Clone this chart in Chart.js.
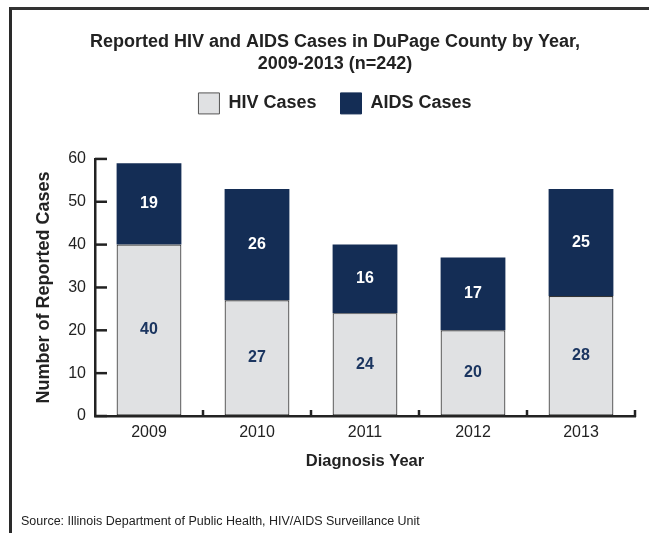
<!DOCTYPE html>
<html>
<head>
<meta charset="utf-8">
<script src="https://cdn.jsdelivr.net/npm/chart.js@4"></script>
<style>
  html, body { margin: 0; padding: 0; background: #fff; }
  #wrap { position: relative; width: 649px; height: 533px; overflow: hidden; }
  #frame {
    position: absolute; left: 9px; top: 7px; width: 700px; height: 600px;
    border-top: 3px solid #333; border-left: 3px solid #2a2a2a;
  }
  #chart { position: absolute; left: 0; top: 0; }
  #source {
    position: absolute; left: 21px; top: 514px;
    font-family: 'Liberation Sans', Arial, sans-serif; font-size: 12.5px; color: #222;
  }
</style>
</head>
<body>
<div id="wrap">
  <div id="frame"></div>
  <canvas id="chart" width="649" height="533"></canvas>
  <div id="source">Source: Illinois Department of Public Health, HIV/AIDS Surveillance Unit</div>
</div>
<script>
// 데이터
const years = ['2009', '2010', '2011', '2012', '2013'];
const hivCases = [40, 27, 24, 20, 28];
const aidsCases = [19, 26, 16, 17, 25];
const yTicks = [0, 10, 20, 30, 40, 50, 60];

const FONT = "'Liberation Sans', Arial, sans-serif";
const INK = '#222';
const HIV_FILL = '#e0e1e3';
const AIDS_FILL = '#142d55';

// 막대 안쪽 값 표시
const barLabels = {
    id: 'barLabels',
    afterDatasetsDraw(chart) {
        const ctx = chart.ctx;
        ctx.save();
        ctx.font = `bold 16px ${FONT}`;
        ctx.textAlign = 'center';
        ctx.textBaseline = 'middle';
        chart.data.datasets.forEach((ds, di) => {
            chart.getDatasetMeta(di).data.forEach((bar, i) => {
                const { x, y, base } = bar.getProps(['x', 'y', 'base'], true);
                ctx.fillStyle = di === 0 ? '#1b3560' : '#ffffff';
                ctx.fillText(String(ds.data[i]), x, (y + base) / 2);
            });
        });
        ctx.restore();
    }
};

// 안쪽으로 향하는 눈금
const innerTicks = {
    id: 'innerTicks',
    afterDraw(chart) {
        const ctx = chart.ctx;
        const xs = chart.scales.x;
        const ys = chart.scales.y;
        ctx.save();
        ctx.strokeStyle = INK;
        ctx.lineWidth = 2.5;
        ys.ticks.forEach(t => {
            const py = ys.getPixelForValue(t.value);
            ctx.beginPath();
            ctx.moveTo(ys.right, py);
            ctx.lineTo(ys.right + 12, py);
            ctx.stroke();
        });
        for (let i = 1; i <= years.length; i++) {
            const px = xs.getPixelForValue(i - 0.5);
            ctx.beginPath();
            ctx.moveTo(px, xs.top + 1);
            ctx.lineTo(px, xs.top - 6);
            ctx.stroke();
        }
        ctx.restore();
    }
};

// 범례 아래 여백
const legendGap = {
    id: 'legendGap',
    beforeInit(chart) {
        const origFit = chart.legend.fit;
        chart.legend.fit = function () {
            origFit.bind(chart.legend)();
            this.height += 35;
        };
    }
};

new Chart(document.getElementById('chart'), {
    type: 'bar',
    data: {
        labels: years,
        datasets: [
            {
                label: 'HIV Cases',
                data: hivCases,
                backgroundColor: HIV_FILL,
                borderColor: '#333',
                borderWidth: 1.2,
                borderSkipped: false,
            },
            {
                label: 'AIDS Cases',
                data: aidsCases,
                backgroundColor: AIDS_FILL,
                borderColor: AIDS_FILL,
                borderWidth: 0,
            },
        ],
    },
    options: {
        responsive: false,
        animation: false,
        layout: { padding: { left: 35, right: 14, top: 0, bottom: 57 } },
        datasets: { bar: { barPercentage: 0.6, categoryPercentage: 1 } },
        plugins: {
            title: {
                display: true,
                text: ['Reported HIV and AIDS Cases in DuPage County by Year,', '2009-2013 (n=242)'],
                color: INK,
                font: { family: FONT, size: 18, weight: 'bold', lineHeight: 1.22 },
                padding: { top: 31, bottom: -6 },
            },
            legend: {
                position: 'top',
                labels: {
                    color: INK,
                    font: { family: FONT, size: 18, weight: 'bold' },
                    boxWidth: 21,
                    boxHeight: 21,
                    padding: 24,
                    generateLabels(chart) {
                        return chart.data.datasets.map((ds, i) => ({
                            text: ds.label,
                            fillStyle: ds.backgroundColor,
                            strokeStyle: i === 0 ? '#555' : AIDS_FILL,
                            lineWidth: 1,
                            datasetIndex: i,
                            fontColor: INK,
                        }));
                    },
                },
            },
            tooltip: { enabled: false },
        },
        scales: {
            x: {
                stacked: true,
                grid: { display: true, drawOnChartArea: false, drawTicks: false, color: 'rgba(0,0,0,0)' },
                border: { display: true, color: INK, width: 2.5 },
                ticks: { color: INK, font: { family: FONT, size: 16 }, padding: 7 },
                title: {
                    display: true,
                    text: 'Diagnosis Year',
                    color: INK,
                    font: { family: FONT, size: 16.5, weight: 'bold', lineHeight: 1.2 },
                    padding: { top: 0, bottom: 5 },
                },
                afterFit(scale) { scale.height = 60; },
            },
            y: {
                stacked: true,
                min: 0,
                max: 60,
                grid: { display: true, drawOnChartArea: false, drawTicks: false, color: 'rgba(0,0,0,0)' },
                border: { display: true, color: INK, width: 2.5 },
                afterBuildTicks(scale) { scale.ticks = yTicks.map(v => ({ value: v })); },
                ticks: { color: INK, font: { family: FONT, size: 16 }, padding: 9 },
                title: {
                    display: true,
                    text: 'Number of Reported Cases',
                    color: INK,
                    font: { family: FONT, size: 18, weight: 'bold', lineHeight: 1 },
                    padding: { top: 0, bottom: 0 },
                },
                afterFit(scale) { scale.width = 60; },
            },
        },
    },
    plugins: [barLabels, innerTicks, legendGap],
});
</script>
</body>
</html>
